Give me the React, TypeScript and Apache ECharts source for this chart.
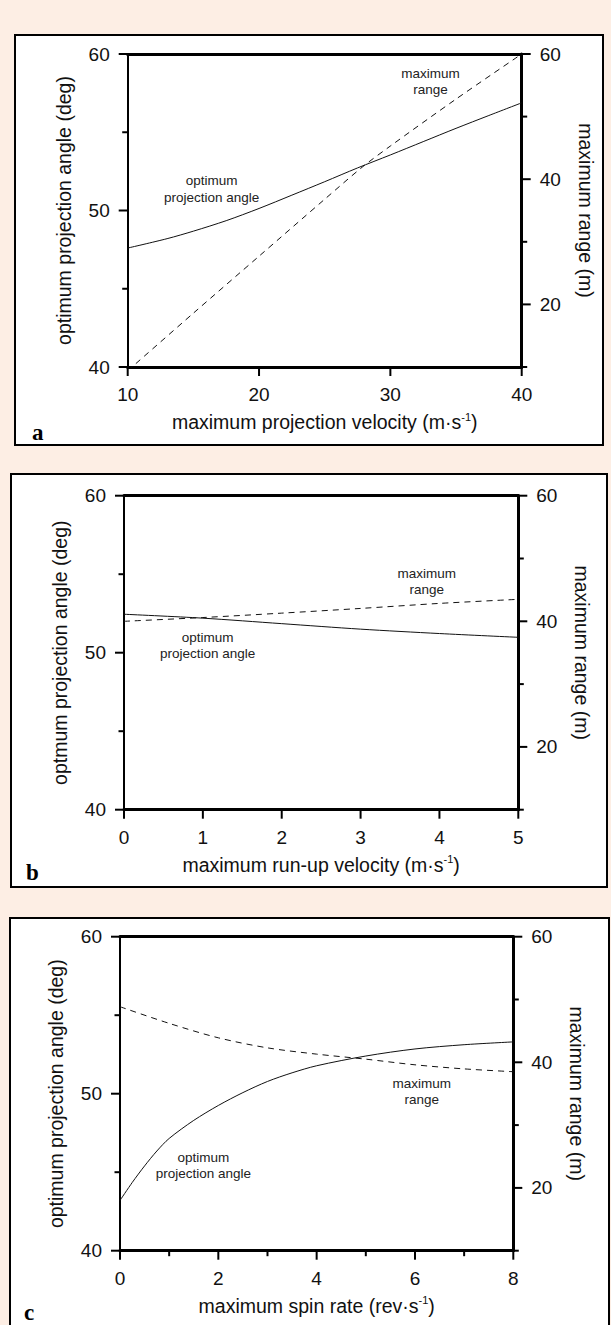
import React, { useEffect, useRef } from 'react';
import * as echarts from 'echarts';

// ---------- data ----------
// Panel a: maximum projection velocity (m/s)
const aAngleX = [10, 13, 15, 17.5, 20, 22.5, 25, 27.5, 30, 32.5, 35, 37.5, 40];
const aAngle = [47.6, 48.2, 48.68, 49.35, 50.13, 50.98, 51.84, 52.72, 53.55, 54.4, 55.25, 56.07, 56.88];
const aRangeX = [10, 15, 20, 25, 27.9, 30, 35, 40];
const aRange = [9.4, 18.6, 27.7, 36.8, 42.0, 45.3, 52.8, 60.0];

// Panel b: maximum run-up velocity (m/s)
const bAngleX = [0, 1, 2, 3, 4, 5];
const bAngle = [52.45, 52.2, 51.85, 51.5, 51.22, 50.98];
const bRangeX = [0, 1, 2, 3, 4, 5];
const bRange = [40.0, 40.6, 41.3, 42.05, 42.85, 43.5];

// Panel c: maximum spin rate (rev/s)
const cAngleX = [0, 0.25, 0.5, 0.75, 1, 1.5, 2, 2.5, 3, 3.5, 4, 5, 6, 7, 8];
const cAngle = [43.2, 44.35, 45.4, 46.35, 47.15, 48.3, 49.25, 50.07, 50.78, 51.33, 51.78, 52.4, 52.85, 53.12, 53.3];
const cRangeX = [0, 1, 2, 3, 4, 5, 6, 7, 8];
const cRange = [48.85, 46.2, 43.9, 42.3, 41.3, 40.5, 39.6, 38.95, 38.5];

// tick values / tick labels
const aXTicks = [10, 20, 30, 40];
const bXTicks = [0, 1, 2, 3, 4, 5];
const cXTicks = [0, 2, 4, 6, 8];
const cXMinorTicks = [1, 3, 5, 7];
const angleTicks = [40, 50, 60];
const angleMinorTicks = [45, 55];
const rangeLabelTicks = [20, 40, 60];
const rangeMinorTicks = [10, 30, 50];
const angleLimits = { min: 40, max: 60, interval: 10 };
const rangeLimits = { min: 10, max: 60 };

const FONT = '"Liberation Sans", Arial, Helvetica, sans-serif';
const INK = '#111';

type Panel = {
  grid: { left: number; top: number; width: number; height: number };
  box: { left: number; top: number; width: number; height: number };
  xMin: number; xMax: number; xInterval: number;
  xTicks: number[]; xMinor: number[];
  xName: string; yName: string;
  angleX: number[]; angle: number[]; rangeX: number[]; range: number[];
  rangeLabel: [number, number]; angleLabel: [number, number];
  letter: string; letterPos: [number, number];
};

const panels: Panel[] = [
  {
    grid: { left: 127.7, top: 54, width: 394, height: 313 },
    box: { left: 14, top: 34, width: 590, height: 412 },
    xMin: 10, xMax: 40, xInterval: 10, xTicks: aXTicks, xMinor: [],
    xName: '{n|maximum projection velocity (m·s}{s|-1}{n|)}',
    yName: 'optimum projection angle (deg)',
    angleX: aAngleX, angle: aAngle, rangeX: aRangeX, range: aRange,
    rangeLabel: [430.6, 81.5], angleLabel: [211.6, 189],
    letter: 'a', letterPos: [32, 432],
  },
  {
    grid: { left: 124, top: 495.7, width: 394.3, height: 314 },
    box: { left: 10, top: 473, width: 598, height: 415 },
    xMin: 0, xMax: 5, xInterval: 1, xTicks: bXTicks, xMinor: [],
    xName: '{n|maximum run-up velocity (m·s}{s|-1}{n|)}',
    yName: 'optmum projection angle (deg)',
    angleX: bAngleX, angle: bAngle, rangeX: bRangeX, range: bRange,
    rangeLabel: [426.7, 581.3], angleLabel: [207.7, 645.5],
    letter: 'b', letterPos: [26, 872.6],
  },
  {
    grid: { left: 120, top: 936.7, width: 393.3, height: 314 },
    box: { left: 9, top: 917, width: 601, height: 420 },
    xMin: 0, xMax: 8, xInterval: 2, xTicks: cXTicks, xMinor: cXMinorTicks,
    xName: '{n|maximum spin rate (rev·s}{s|-1}{n|)}',
    yName: 'optimum projection angle (deg)',
    angleX: cAngleX, angle: cAngle, rangeX: cRangeX, range: cRange,
    rangeLabel: [421.7, 1091.3], angleLabel: [203.4, 1165.3],
    letter: 'c', letterPos: [24, 1312.6],
  },
];

const MAJOR = 9;
const MINOR = 5.5;
const LABEL_GAP = 18;

// tick marks drawn through the axes' own scales
function tickSeries(
  xAxisIndex: number, yAxisIndex: number, points: number[][],
  dir: 'down' | 'left' | 'right', len: number,
) {
  return {
    type: 'custom', xAxisIndex, yAxisIndex, clip: false, silent: true, z: 6,
    data: points,
    renderItem: (params: any, api: any) => {
      const pt = api.coord([api.value(0), api.value(1)]);
      let x1 = pt[0], y1 = pt[1], x2 = pt[0], y2 = pt[1];
      if (dir === 'down') { y1 -= 1; y2 += len; }
      else if (dir === 'left') { x1 += 1; x2 -= len; }
      else { x1 -= 1; x2 += len; }
      return {
        type: 'line',
        shape: { x1, y1, x2, y2 },
        style: { stroke: '#000', lineWidth: 2 },
      };
    },
  };
}

// tick labels drawn through the axes' own scales
function labelSeries(
  xAxisIndex: number, yAxisIndex: number, points: number[][], texts: number[],
  dir: 'down' | 'left' | 'right',
) {
  return {
    type: 'custom', xAxisIndex, yAxisIndex, clip: false, silent: true, z: 6,
    data: points,
    renderItem: (params: any, api: any) => {
      const pt = api.coord([api.value(0), api.value(1)]);
      let x = pt[0], y = pt[1];
      let align = 'center', verticalAlign = 'top';
      if (dir === 'down') { y += LABEL_GAP; }
      else if (dir === 'left') { x -= LABEL_GAP; align = 'right'; verticalAlign = 'middle'; }
      else { x += LABEL_GAP; align = 'left'; verticalAlign = 'middle'; }
      return {
        type: 'text', x, y,
        style: {
          text: String(texts[params.dataIndex]),
          fontSize: 19, fontFamily: FONT, fill: INK, align, verticalAlign,
        },
      };
    },
  };
}

function buildOption() {
  const grid: any[] = [];
  const xAxis: any[] = [];
  const yAxis: any[] = [];
  const series: any[] = [];
  const graphic: any[] = [];

  panels.forEach((p, i) => {
    grid.push({ ...p.grid, containLabel: false });
    xAxis.push({
      type: 'value', gridIndex: i, position: 'bottom',
      min: p.xMin, max: p.xMax, interval: p.xInterval,
      axisLine: { show: true, onZero: false, lineStyle: { color: '#000', width: 3 } },
      axisTick: { show: false },
      minorTick: { show: false },
      axisLabel: { show: false },
      splitLine: { show: false },
      minorSplitLine: { show: false },
      name: p.xName,
      nameLocation: 'middle',
      nameGap: 44,
      nameTextStyle: {
        rich: {
          n: { fontSize: 19.5, lineHeight: 22, color: INK, fontFamily: FONT },
          s: { fontSize: 11, lineHeight: 12, color: INK, fontFamily: FONT, verticalAlign: 'top' },
        },
      },
    });
    xAxis.push({
      type: 'value', gridIndex: i, position: 'top',
      min: p.xMin, max: p.xMax, interval: p.xInterval,
      axisLine: { show: true, onZero: false, lineStyle: { color: '#000', width: 3 } },
      axisTick: { show: false }, axisLabel: { show: false }, splitLine: { show: false },
    });
    yAxis.push({
      type: 'value', gridIndex: i, position: 'left',
      min: angleLimits.min, max: angleLimits.max, interval: angleLimits.interval,
      axisLine: { show: true, onZero: false, lineStyle: { color: '#000', width: 2 } },
      axisTick: { show: false },
      minorTick: { show: false },
      axisLabel: { show: false },
      splitLine: { show: false }, minorSplitLine: { show: false },
      name: p.yName, nameLocation: 'middle', nameGap: 54, nameRotate: 90,
      nameTextStyle: { fontSize: 19.5, color: INK, fontFamily: FONT },
    });
    yAxis.push({
      type: 'value', gridIndex: i, position: 'right',
      min: rangeLimits.min, max: rangeLimits.max, interval: 10,
      axisLine: { show: true, onZero: false, lineStyle: { color: '#000', width: 3 } },
      axisTick: { show: false },
      axisLabel: { show: false },
      splitLine: { show: false },
      name: 'maximum range (m)', nameLocation: 'middle', nameGap: 54, nameRotate: -90,
      nameTextStyle: { fontSize: 19.5, color: INK, fontFamily: FONT },
    });

    const xi = 2 * i;
    const yA = 2 * i;
    const yR = 2 * i + 1;

    series.push({
      type: 'line', xAxisIndex: xi, yAxisIndex: yA,
      data: p.angleX.map((x, k) => [x, p.angle[k]]),
      showSymbol: false, smooth: 0.3, clip: true,
      lineStyle: { color: '#111', width: 1 },
    });
    series.push({
      type: 'line', xAxisIndex: xi, yAxisIndex: yR,
      data: p.rangeX.map((x, k) => [x, p.range[k]]),
      showSymbol: false, smooth: 0.3, clip: true,
      lineStyle: { color: '#111', width: 1, type: [6, 5] },
    });

    // ticks
    series.push(tickSeries(xi, yA, p.xTicks.map((v) => [v, angleLimits.min]), 'down', MAJOR));
    if (p.xMinor.length) {
      series.push(tickSeries(xi, yA, p.xMinor.map((v) => [v, angleLimits.min]), 'down', MINOR));
    }
    series.push(tickSeries(xi, yA, angleTicks.map((v) => [p.xMin, v]), 'left', MAJOR));
    series.push(tickSeries(xi, yA, angleMinorTicks.map((v) => [p.xMin, v]), 'left', MINOR));
    series.push(tickSeries(xi, yR, rangeLabelTicks.map((v) => [p.xMax, v]), 'right', MAJOR));
    series.push(tickSeries(xi, yR, rangeMinorTicks.map((v) => [p.xMax, v]), 'right', MINOR));

    // tick labels
    series.push(labelSeries(xi, yA, p.xTicks.map((v) => [v, angleLimits.min]), p.xTicks, 'down'));
    series.push(labelSeries(xi, yA, angleTicks.map((v) => [p.xMin, v]), angleTicks, 'left'));
    series.push(labelSeries(xi, yR, rangeLabelTicks.map((v) => [p.xMax, v]), rangeLabelTicks, 'right'));

    const annStyle = {
      fontSize: 13.5, lineHeight: 16.5, fontFamily: FONT, fill: '#222',
      align: 'center', verticalAlign: 'middle',
    };
    graphic.push({
      type: 'text', x: p.rangeLabel[0], y: p.rangeLabel[1], z: 10,
      style: { ...annStyle, text: 'maximum\nrange' },
    });
    graphic.push({
      type: 'text', x: p.angleLabel[0], y: p.angleLabel[1], z: 10,
      style: { ...annStyle, text: 'optimum\nprojection angle' },
    });
    graphic.push({
      type: 'text', x: p.letterPos[0], y: p.letterPos[1], z: 10,
      style: {
        text: p.letter, fontSize: 23, fontWeight: 'bold',
        fontFamily: '"Liberation Serif", "Times New Roman", serif',
        fill: '#000', align: 'left', verticalAlign: 'middle',
      },
    });
  });

  return { animation: false, grid, xAxis, yAxis, series, graphic };
}

export default function App() {
  const ref = useRef<HTMLDivElement>(null);
  useEffect(() => {
    if (!ref.current) return;
    const chart = echarts.init(ref.current, undefined, { renderer: 'svg' });
    chart.setOption(buildOption() as any);
    return () => chart.dispose();
  }, []);

  return (
    <div style={{ position: 'absolute', left: 0, top: 0, width: 611, height: 1325, overflow: 'hidden', background: '#fdeee4' }}>
      {panels.map((p) => (
        <div
          key={p.letter}
          style={{
            position: 'absolute', left: p.box.left, top: p.box.top, width: p.box.width, height: p.box.height,
            boxSizing: 'border-box', border: '2px solid #000', background: '#fff',
          }}
        />
      ))}
      <div ref={ref} style={{ position: 'absolute', left: 0, top: 0, width: 611, height: 1325 }} />
    </div>
  );
}
